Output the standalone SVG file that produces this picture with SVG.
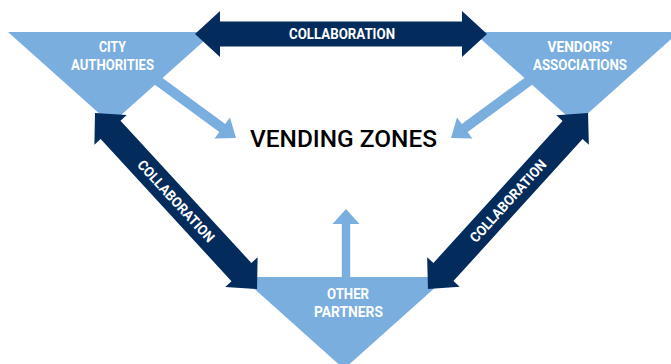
<svg xmlns="http://www.w3.org/2000/svg" width="671" height="364" viewBox="0 0 671 364">
  <style>
    .tri { fill: #7AAEDE; }
    .light { fill: #7AAEDE; }
    .dark { fill: #032C5C; }
    .lbl { font-family: Roboto, "Liberation Sans", sans-serif; font-weight: bold; font-size: 14px; fill: #FFFFFF; text-anchor: middle; }
    .main { font-family: Roboto, "Liberation Sans", sans-serif; font-weight: 500; font-size: 23px; fill: #000000; text-anchor: middle; }
  </style>
  <rect width="671" height="364" fill="#FFFFFF"/>

  <g id="city-authorities">
    <polygon class="tri" points="8,32 214,32 111,124"/>
    <text class="lbl" x="112.5" y="52" textLength="27" lengthAdjust="spacingAndGlyphs">CITY</text>
    <text class="lbl" x="112.5" y="70" textLength="83" lengthAdjust="spacingAndGlyphs">AUTHORITIES</text>
  </g>

  <g id="vendors-associations">
    <polygon class="tri" points="473,32 679,32 576,124"/>
    <text class="lbl" x="580" y="52" textLength="65" lengthAdjust="spacingAndGlyphs">VENDORS’</text>
    <text class="lbl" x="580" y="70" textLength="94" lengthAdjust="spacingAndGlyphs">ASSOCIATIONS</text>
  </g>

  <g id="other-partners">
    <polygon class="tri" points="241,277 447,277 344,369"/>
    <text class="lbl" x="348" y="299" textLength="42" lengthAdjust="spacingAndGlyphs">OTHER</text>
    <text class="lbl" x="348.5" y="317" textLength="69" lengthAdjust="spacingAndGlyphs">PARTNERS</text>
  </g>

  <g id="vending-zones">
    <text class="main" x="343.5" y="147" textLength="187" lengthAdjust="spacingAndGlyphs">VENDING ZONES</text>
  </g>

  <g id="connectors">
    <!-- light arrows into vending zones -->
    <polygon class="light" transform="translate(150,75) rotate(36.2)" points="0,-5 89.6,-5 89.6,-13 106.6,0 89.6,13 89.6,5 0,5"/>
    <polygon class="light" transform="translate(537,75) rotate(143.8)" points="0,-5 89.6,-5 89.6,-13 106.6,0 89.6,13 89.6,5 0,5"/>
    <polygon class="light" points="341.8,280 341.8,224 332.5,224 346,209 359.5,224 350.2,224 350.2,280"/>

    <!-- top collaboration arrow -->
    <g transform="translate(341,34)">
      <polygon class="dark" points="-146,0 -121,-23 -121,-12.5 121,-12.5 121,-23 146,0 121,23 121,12.5 -121,12.5 -121,23"/>
      <text class="lbl" x="1" y="5" textLength="106" lengthAdjust="spacingAndGlyphs">COLLABORATION</text>
    </g>

    <!-- left collaboration arrow -->
    <g transform="translate(176,201) rotate(47.37)">
      <polygon class="dark" points="-119.6,0 -96.6,-22 -96.6,-13.5 96.6,-13.5 96.6,-22 119.6,0 96.6,22 96.6,13.5 -96.6,13.5 -96.6,22"/>
      <text class="lbl" x="0" y="5" textLength="106" lengthAdjust="spacingAndGlyphs">COLLABORATION</text>
    </g>

    <!-- right collaboration arrow -->
    <g transform="translate(508,201) rotate(-47.73)">
      <polygon class="dark" points="-119,0 -96,-22 -96,-13.5 96,-13.5 96,-22 119,0 96,22 96,13.5 -96,13.5 -96,22"/>
      <text class="lbl" x="0" y="5" textLength="106" lengthAdjust="spacingAndGlyphs">COLLABORATION</text>
    </g>
  </g>
</svg>
